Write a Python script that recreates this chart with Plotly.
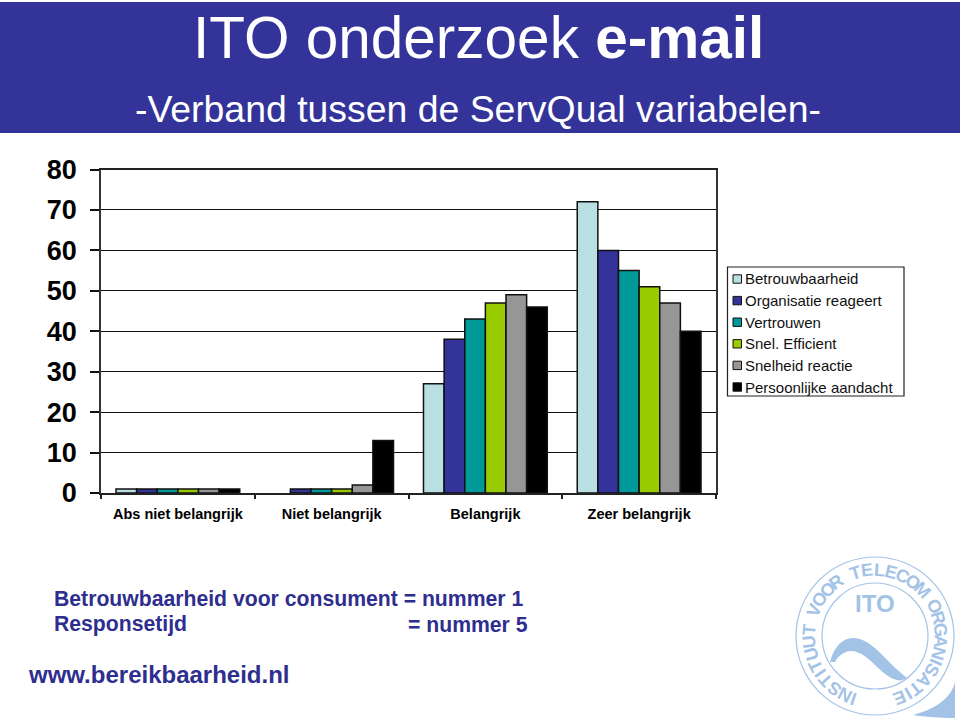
import math
import plotly.graph_objects as go

categories = ["Abs niet belangrijk", "Niet belangrijk", "Belangrijk", "Zeer belangrijk"]
series_names = ["Betrouwbaarheid", "Organisatie reageert", "Vertrouwen", "Snel. Efficient",
                "Snelheid reactie", "Persoonlijke aandacht"]
colors = ["#B9DFE3", "#333399", "#009999", "#99CC00", "#969696", "#000000"]
betrouwbaarheid = [1, None, 27, 72]
organisatie = [1, 1, 38, 60]
vertrouwen = [1, 1, 43, 55]
snel_efficient = [1, 1, 47, 51]
snelheid = [1, 2, 49, 47]
persoonlijk = [1, 13, 46, 40]
all_values = [betrouwbaarheid, organisatie, vertrouwen, snel_efficient, snelheid, persoonlijk]
y_ticks = [0, 10, 20, 30, 40, 50, 60, 70, 80]
logo_text = "INSTITUUT VOOR TELECOM ORGANISATIE"

W, H = 960, 720
NAVY = "#2E2E8F"
LOGO = "#A3C3E6"
SANS = "Liberation Sans, Arial, sans-serif"


def px(x):
    return x / W


def py(y):
    return 1 - y / H


fig = go.Figure()
for name, vals, col in zip(series_names, all_values, colors):
    fig.add_trace(go.Bar(name=name, x=categories, y=vals, marker=dict(color=col, line=dict(color="#111111", width=1.5))))

shapes = [dict(type="rect", xref="paper", yref="paper", x0=0, x1=1, y0=py(133), y1=py(2),
               fillcolor="#333399", line_width=0, layer="below")]
ann = []


def text(x, y, s, size, color="black", bold=False, xanchor="left", angle=0):
    ann.append(dict(xref="paper", yref="paper", x=px(x), y=py(y), text=f"<b>{s}</b>" if bold else s,
                    showarrow=False, xanchor=xanchor, yanchor="middle", textangle=angle,
                    font=dict(family=SANS, size=size, color=color), borderpad=0, borderwidth=0))


# headings
text(478.5, 37, "ITO onderzoek <b>e-mail</b>", 58.5, "white", xanchor="center")
text(477.5, 109, "-Verband tussen de ServQual variabelen-", 37.4, "white", xanchor="center")

# hand-placed legend
shapes.append(dict(type="rect", xref="paper", yref="paper", x0=px(727.5), x1=px(904), y0=py(396), y1=py(267),
                   fillcolor="white", line=dict(color="#222222", width=1.2)))
for i, (name, col) in enumerate(zip(series_names, colors)):
    yc = 279 + i * 21.6
    shapes.append(dict(type="rect", xref="paper", yref="paper", x0=px(733), x1=px(741.5), y0=py(yc + 4.2), y1=py(yc - 4.2),
                       fillcolor=col, line=dict(color="#111111", width=1)))
    text(745, yc, name, 15, "#111111")

# footer
text(54, 598, "Betrouwbaarheid voor consument = nummer 1", 21.2, NAVY, bold=True)
text(54, 624, "Responsetijd", 21.2, NAVY, bold=True)
text(408, 624, "= nummer 5", 21.2, NAVY, bold=True)
text(28, 674, "www.bereikbaarheid.nl", 24, NAVY, bold=True)

# logo
cx, cy, r_out, r_in = 875, 636, 79, 53
for r in (r_out, r_in):
    shapes.append(dict(type="circle", xref="paper", yref="paper", x0=px(cx - r), x1=px(cx + r), y0=py(cy + r), y1=py(cy - r),
                       line=dict(color=LOGO, width=1.2)))


def path(points):
    return " ".join(f"{c}{px(p[0]):.5f},{py(p[1]):.5f}" if c != "C" else
                    "C" + " ".join(f"{px(q[0]):.5f},{py(q[1]):.5f}" for q in p) for c, p in points) + " Z"


shapes.append(dict(type="path", xref="paper", yref="paper", fillcolor=LOGO, line_width=0, path=path([
    ("M", (830, 662)),
    ("C", ((834, 646), (843, 638), (853, 638))),
    ("C", ((872, 638), (884, 660), (907, 678))),
    ("C", ((903, 680), (900, 681), (897, 680))),
    ("C", ((880, 676), (870, 653), (852, 651))),
    ("C", ((844, 651), (838, 656), (835, 662))),
])))
shapes.append(dict(type="path", xref="paper", yref="paper", fillcolor=LOGO, line_width=0, path=path([
    ("M", (955, 682)),
    ("C", ((952, 695), (940, 708), (913, 715))),
    ("C", ((925, 717), (940, 718), (955, 718))),
])))
text(875, 603, "<b>ITO</b>", 24, LOGO, xanchor="center")

start, end = 199, 518
weights = [0.5 if c == "I" else 0.7 if c == " " else 1.0 for c in logo_text]
# advance between neighbouring letters follows the mean of their widths
advance = [(weights[i] + weights[i + 1]) / 2 for i in range(len(logo_text) - 1)]
unit = (end - start) / sum(advance)
th = start
for i, ch in enumerate(logo_text):
    if ch != " ":
        x = cx + 66 * math.sin(math.radians(th))
        y = cy - 66 * math.cos(math.radians(th))
        a = th % 360
        text(x, y, ch, 18, LOGO, bold=True, xanchor="center", angle=a if a <= 180 else a - 360)
    if i < len(advance):
        th += advance[i] * unit

fig.update_layout(
    width=W, height=H, margin=dict(l=0, r=0, t=0, b=0, pad=0, autoexpand=False),
    paper_bgcolor="white", plot_bgcolor="white", showlegend=False,
    barmode="group", bargap=0.195, bargroupgap=0,
    shapes=shapes, annotations=ann,
    xaxis=dict(domain=[px(101), px(716)], showline=True, linecolor="#222222", linewidth=1.5, mirror=True,
               tickson="boundaries", ticks="outside", ticklen=4, tickcolor="#222222", tickwidth=1.5,
               showgrid=False, ticklabelstandoff=7, tickfont=dict(family=SANS, size=14.5, color="black")),
    yaxis=dict(domain=[py(493), py(169.5)], range=[0, 80], tickvals=y_ticks, showline=True, linecolor="#333333", linewidth=1.5,
               mirror=True, ticks="outside", ticklen=9, tickcolor="#111111", tickwidth=1.5, showgrid=True,
               gridcolor="#111111", gridwidth=1.3, zeroline=False, ticklabelstandoff=8,
               tickfont=dict(family=SANS, size=27, color="black")),
)
fig.update_xaxes(tickvals=categories, ticktext=[f"<b>{c}</b>" for c in categories])
fig.update_yaxes(ticktext=[f"<b>{v}</b>" for v in y_ticks])
fig.write_html("out.html", post_script="document.body.style.margin='0';", config=dict(displayModeBar=False))
